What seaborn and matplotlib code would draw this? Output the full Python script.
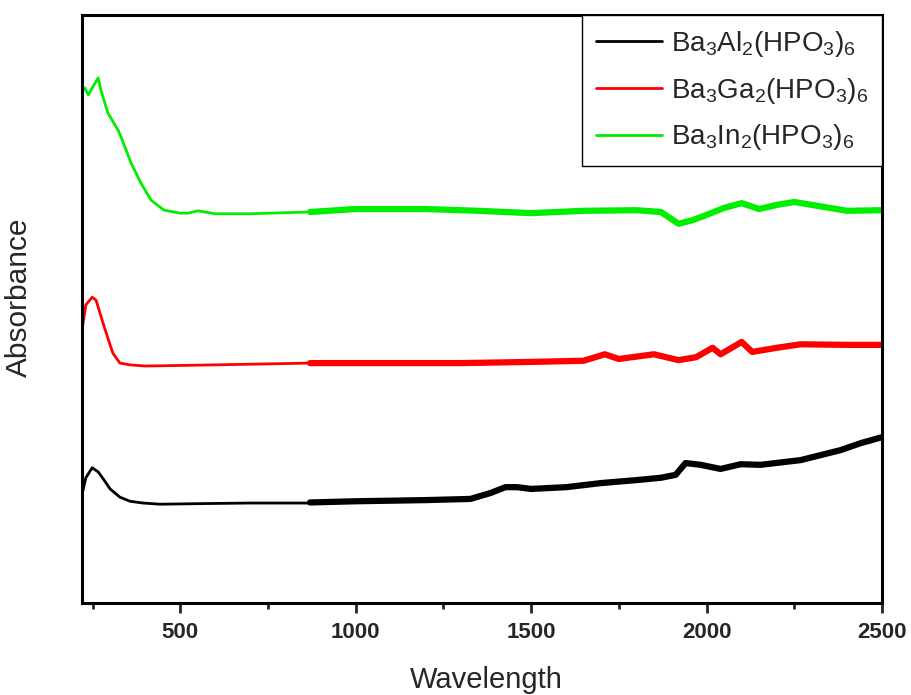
import matplotlib
matplotlib.use("Agg")
import matplotlib.pyplot as plt
import seaborn as sns
import pandas as pd

sns.set_style("white")
plt.rcParams['font.family'] = ['Liberation Sans', 'DejaVu Sans']
plt.rcParams['mathtext.default'] = 'regular'

# ---- data (wavelength, absorbance in arbitrary units) ----
labels = [r'Ba$_3$Al$_2$(HPO$_3$)$_6$',
          r'Ba$_3$Ga$_2$(HPO$_3$)$_6$',
          r'Ba$_3$In$_2$(HPO$_3$)$_6$']
colors = ['#000000', '#ff0000', '#00ee00']

# smooth (UV-vis) part
al_wl_s = [220, 231, 249, 266, 283, 300, 328, 357, 394, 443, 557, 699, 870]
al_ab_s = [0.184, 0.213, 0.230, 0.223, 0.209, 0.194, 0.180, 0.173, 0.170, 0.168, 0.169, 0.170, 0.170]
ga_wl_s = [220, 231, 249, 260, 280, 300, 308, 328, 357, 400, 600, 870]
ga_ab_s = [0.464, 0.507, 0.520, 0.515, 0.476, 0.439, 0.425, 0.408, 0.405, 0.403, 0.405, 0.408]
in_wl_s = [220, 228, 238, 249, 266, 274, 294, 323, 331, 360, 388, 417, 454, 500, 523, 550, 600, 700, 870]
in_ab_s = [0.869, 0.876, 0.864, 0.876, 0.893, 0.872, 0.833, 0.804, 0.793, 0.748, 0.714, 0.685, 0.668,
           0.663, 0.663, 0.667, 0.662, 0.662, 0.665]

# noisy (NIR) part
al_wl_n = [870, 1000, 1200, 1327, 1384, 1427, 1460, 1500, 1600, 1700, 1800, 1870, 1912, 1940, 1983,
           2040, 2097, 2154, 2268, 2382, 2440, 2500]
al_ab_n = [0.171, 0.173, 0.175, 0.177, 0.187, 0.197, 0.197, 0.194, 0.197, 0.204, 0.209, 0.213, 0.218,
           0.238, 0.235, 0.228, 0.236, 0.235, 0.243, 0.260, 0.272, 0.282]
ga_wl_n = [870, 1000, 1300, 1500, 1650, 1710, 1750, 1850, 1920, 1970, 2017, 2040, 2100, 2130, 2200,
           2268, 2400, 2500]
ga_ab_n = [0.408, 0.408, 0.408, 0.410, 0.412, 0.423, 0.415, 0.423, 0.413, 0.418, 0.434, 0.423, 0.444,
           0.427, 0.434, 0.440, 0.439, 0.439]
in_wl_n = [870, 1000, 1200, 1350, 1500, 1650, 1800, 1870, 1920, 1960, 2000, 2050, 2100, 2150, 2200,
           2250, 2300, 2400, 2500]
in_ab_n = [0.665, 0.670, 0.670, 0.667, 0.663, 0.667, 0.668, 0.665, 0.645, 0.651, 0.660, 0.672, 0.680,
           0.670, 0.677, 0.682, 0.677, 0.667, 0.668]

smooth = [(al_wl_s, al_ab_s), (ga_wl_s, ga_ab_s), (in_wl_s, in_ab_s)]
noisy = [(al_wl_n, al_ab_n), (ga_wl_n, ga_ab_n), (in_wl_n, in_ab_n)]

fig = plt.figure(figsize=(9.11, 6.95), dpi=100)
ax = fig.add_axes([82 / 911, 92 / 695, 800 / 911, 588 / 695])

for (ws, a_s), (wn, a_n), lab, col in zip(smooth, noisy, labels, colors):
    df_s = pd.DataFrame({'Wavelength': ws, 'Absorbance': a_s})
    df_n = pd.DataFrame({'Wavelength': wn, 'Absorbance': a_n})
    sns.lineplot(data=df_s, x='Wavelength', y='Absorbance', ax=ax, color=col, lw=2.0, label=lab)
    sns.lineplot(data=df_n, x='Wavelength', y='Absorbance', ax=ax, color=col, lw=4.5)

ax.set_xlim(220, 2500)
ax.set_ylim(0, 1)
ax.set_xticks([500, 1000, 1500, 2000, 2500])
ax.set_xticks([250, 750, 1250, 1750, 2250], minor=True)
ax.set_yticks([])
ax.tick_params(axis='x', which='major', direction='out', length=7, width=2, bottom=True,
               labelsize=16, pad=7)
ax.tick_params(axis='x', which='minor', direction='out', length=4, width=2, bottom=True)
for lbl in ax.get_xticklabels():
    lbl.set_fontweight('bold')
for sp in ax.spines.values():
    sp.set_linewidth(2.2)
    sp.set_color('black')

ax.set_xlabel('Wavelength', fontsize=21)
ax.set_ylabel('Absorbance', fontsize=21.5)
ax.xaxis.set_label_coords(0.505, -0.107)
ax.yaxis.set_label_coords(-0.061, 0.52)

leg = ax.legend(loc='upper right', fontsize=20, frameon=True, fancybox=False, framealpha=1,
                edgecolor='black', borderaxespad=0, handlelength=2.4, handletextpad=0.3,
                labelspacing=0.6, borderpad=0.5)
leg.get_frame().set_linewidth(1.0)
for h in leg.get_lines():
    h.set_linewidth(2.0)

fig.savefig('out.png', dpi=100)
